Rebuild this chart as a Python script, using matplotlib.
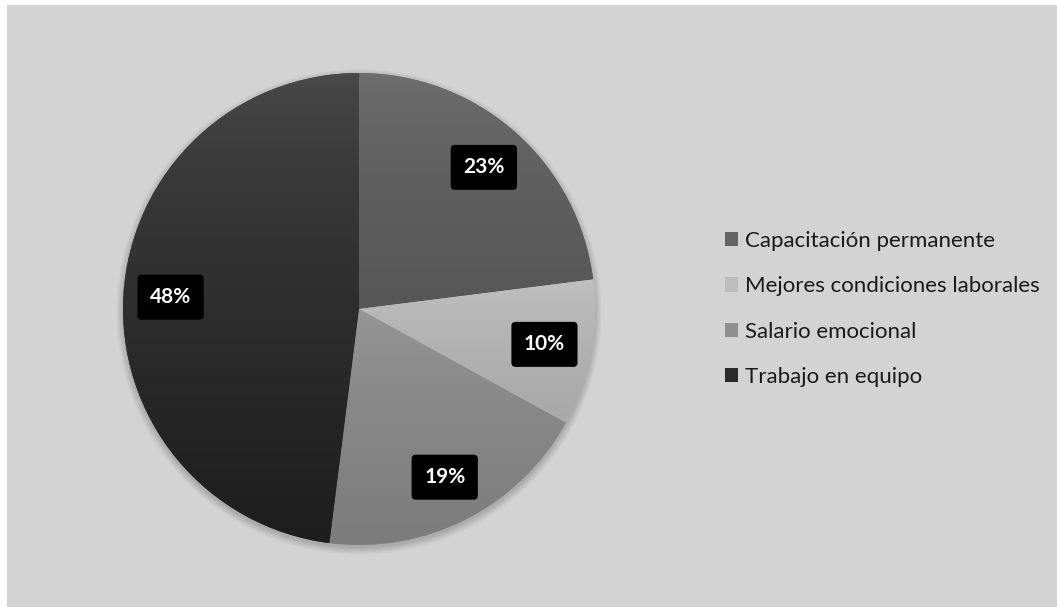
import numpy as np
import matplotlib
matplotlib.use("Agg")
import matplotlib.pyplot as plt
from matplotlib.patches import Rectangle, Patch, Circle
from matplotlib.colors import to_rgb

categories = ["Capacitación permanente", "Mejores condiciones laborales",
              "Salario emocional", "Trabajo en equipo"]
values = [23, 10, 19, 48]

# top / bottom shades of the vertical gradient filling each slice
top_colors = ["#6f6f6f", "#c2c2c2", "#989898", "#4b4b4b"]
bottom_colors = ["#565656", "#a8a8a8", "#7c7c7c", "#1d1d1d"]
legend_colors = ["#646464", "#bdbdbd", "#8f8f8f", "#2a2a2a"]

plt.rcParams["font.family"] = ["Lato", "DejaVu Sans"]

W, H = 1057, 607
fig = plt.figure(figsize=(W / 100, H / 100), dpi=100, facecolor="white")
fig.patches.append(Rectangle((7 / W, 0), 1 - 7 / W, (H - 5) / H,
                             transform=fig.transFigure, facecolor="#d3d3d3",
                             edgecolor="none", zorder=-10))

cx, cy, r = 359, 309, 236
ax = fig.add_axes([(cx - r) / W, (H - cy - r) / H, 2 * r / W, 2 * r / H])
ax.set_zorder(1)
ax.axis("off")
ax.patch.set_alpha(0)

# soft shadow under the pie
for k in range(8):
    ax.add_patch(Circle((0.0, -0.012), 1.0 + 0.004 * k, facecolor="black",
                        edgecolor="none", alpha=0.022, zorder=0,
                        clip_on=False))

wedges, texts, autotexts = ax.pie(
    values, startangle=90, counterclock=False, radius=1.0,
    colors=top_colors, autopct="%1.0f%%", pctdistance=0.8,
    wedgeprops=dict(linewidth=0),
    textprops=dict(color="white", fontsize=15, fontweight="bold"))

# vertical gradient clipped to every wedge
for w, ct, cb in zip(wedges, top_colors, bottom_colors):
    pts = w.get_patch_transform().transform(w.get_path().vertices)
    y0, y1 = pts[:, 1].min(), pts[:, 1].max()
    x0, x1 = pts[:, 0].min(), pts[:, 0].max()
    t = np.linspace(0, 1, 256)[:, None] ** 0.65
    a, b = np.array(to_rgb(ct)), np.array(to_rgb(cb))
    grad = a[None, :] * (1 - t) + b[None, :] * t
    img = np.repeat(grad[:, None, :], 2, axis=1)
    im = ax.imshow(img, extent=(x0, x1, y0, y1), origin="upper",
                   aspect="auto", zorder=1, interpolation="bilinear")
    im.set_clip_path(w)
    w.set_zorder(0.5)

ax.set_xlim(-1, 1)
ax.set_ylim(-1, 1)
ax.set_aspect("equal")

for t in autotexts:
    t.set_zorder(5)
    t.set_bbox(dict(boxstyle="round,pad=0.6,rounding_size=0.2",
                    facecolor="black", edgecolor="none"))

handles = [Patch(facecolor=c, edgecolor="none") for c in legend_colors]
fig.legend(handles, categories, loc="center left",
           bbox_to_anchor=(705 / W, 1 - 309 / H), frameon=False,
           fontsize=16, handlelength=0.6, handleheight=0.6,
           handletextpad=0.3, labelspacing=1.14, labelcolor="#1a1a1a")

fig.savefig("out.png", dpi=100, facecolor="white")
